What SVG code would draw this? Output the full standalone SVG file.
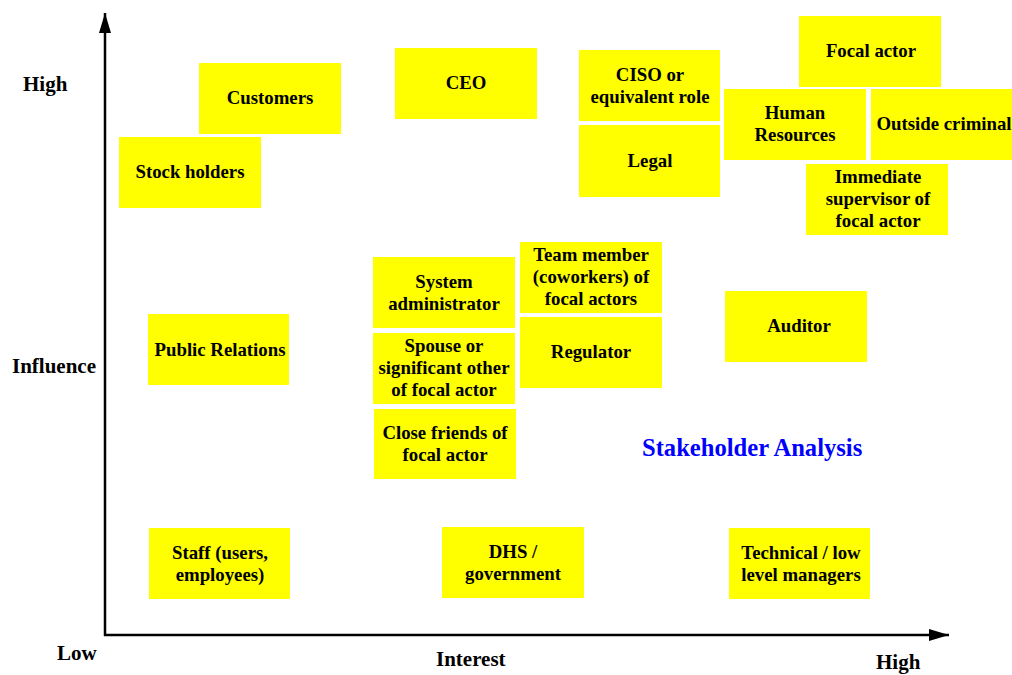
<svg xmlns="http://www.w3.org/2000/svg" width="1012" height="675" viewBox="0 0 1012 675">
  <style>
    .box { fill: #ffff00; }
    .lbl { font-family: "Liberation Serif", "Times New Roman", serif; font-weight: bold; font-size: 18.8px; fill: #000; text-anchor: middle; }
    .axis-lbl { font-family: "Liberation Serif", "Times New Roman", serif; font-weight: bold; font-size: 21px; fill: #000; }
    .title { font-family: "Liberation Serif", "Times New Roman", serif; font-weight: bold; font-size: 24.6px; fill: #0000ff; }
    .axis { stroke: #000; stroke-width: 2.5; fill: none; }
  </style>
  <defs>
    <marker id="arrow" viewBox="0 0 20 12" refX="20" refY="6" markerWidth="20" markerHeight="12" markerUnits="userSpaceOnUse" orient="auto">
      <path d="M0,0 L20,6 L0,12 Z" fill="#000"/>
    </marker>
  </defs>

  <!-- axes -->
  <g id="connectors">
    <line class="axis" x1="105" y1="636" x2="105" y2="13" marker-end="url(#arrow)"/>
    <line class="axis" x1="104" y1="635" x2="949" y2="635" marker-end="url(#arrow)"/>
  </g>

  <!-- axis labels -->
  <g id="axis-labels">
    <text class="axis-lbl" x="23" y="91">High</text>
    <text class="axis-lbl" x="12" y="373">Influence</text>
    <text class="axis-lbl" x="57" y="660">Low</text>
    <text class="axis-lbl" x="436" y="666">Interest</text>
    <text class="axis-lbl" x="876" y="669">High</text>
  </g>

  <text class="title" x="642" y="456">Stakeholder Analysis</text>

  <!-- stakeholders -->
  <g id="customers">
    <rect class="box" x="199" y="63" width="142" height="71"/>
    <text class="lbl" x="270" y="104">Customers</text>
  </g>
  <g id="ceo">
    <rect class="box" x="395" y="48" width="142" height="71"/>
    <text class="lbl" x="466" y="89">CEO</text>
  </g>
  <g id="ciso">
    <rect class="box" x="579" y="50" width="141" height="71"/>
    <text class="lbl" x="650" y="81">CISO or</text>
    <text class="lbl" x="650" y="103">equivalent role</text>
  </g>
  <g id="legal">
    <rect class="box" x="579" y="125" width="141" height="72"/>
    <text class="lbl" x="650" y="167">Legal</text>
  </g>
  <g id="focal-actor">
    <rect class="box" x="799" y="16" width="142" height="71"/>
    <text class="lbl" x="871" y="57">Focal actor</text>
  </g>
  <g id="human-resources">
    <rect class="box" x="724" y="89" width="142" height="71"/>
    <text class="lbl" x="795" y="119">Human</text>
    <text class="lbl" x="795" y="141">Resources</text>
  </g>
  <g id="outside-criminal">
    <rect class="box" x="871" y="89" width="142" height="71"/>
    <text class="lbl" x="944" y="130">Outside criminal</text>
  </g>
  <g id="immediate-supervisor">
    <rect class="box" x="806" y="164" width="142" height="71"/>
    <text class="lbl" x="878" y="183">Immediate</text>
    <text class="lbl" x="878" y="205">supervisor of</text>
    <text class="lbl" x="878" y="227">focal actor</text>
  </g>
  <g id="stock-holders">
    <rect class="box" x="119" y="137" width="142" height="71"/>
    <text class="lbl" x="190" y="178">Stock holders</text>
  </g>
  <g id="system-administrator">
    <rect class="box" x="373" y="257" width="142" height="71"/>
    <text class="lbl" x="444" y="288">System</text>
    <text class="lbl" x="444" y="310">administrator</text>
  </g>
  <g id="team-member">
    <rect class="box" x="520" y="242" width="142" height="71"/>
    <text class="lbl" x="591" y="261">Team member</text>
    <text class="lbl" x="591" y="283">(coworkers) of</text>
    <text class="lbl" x="591" y="305">focal actors</text>
  </g>
  <g id="spouse">
    <rect class="box" x="373" y="333" width="142" height="71"/>
    <text class="lbl" x="444" y="352">Spouse or</text>
    <text class="lbl" x="444" y="374">significant other</text>
    <text class="lbl" x="444" y="396">of focal actor</text>
  </g>
  <g id="regulator">
    <rect class="box" x="520" y="317" width="142" height="71"/>
    <text class="lbl" x="591" y="358">Regulator</text>
  </g>
  <g id="close-friends">
    <rect class="box" x="374" y="409" width="142" height="70"/>
    <text class="lbl" x="445" y="439">Close friends of</text>
    <text class="lbl" x="445" y="461">focal actor</text>
  </g>
  <g id="public-relations">
    <rect class="box" x="148" y="314" width="141" height="71"/>
    <text class="lbl" x="220" y="356">Public Relations</text>
  </g>
  <g id="auditor">
    <rect class="box" x="725" y="291" width="142" height="71"/>
    <text class="lbl" x="799" y="332">Auditor</text>
  </g>
  <g id="staff">
    <rect class="box" x="149" y="528" width="141" height="71"/>
    <text class="lbl" x="220" y="559">Staff (users,</text>
    <text class="lbl" x="220" y="581">employees)</text>
  </g>
  <g id="dhs">
    <rect class="box" x="442" y="527" width="142" height="71"/>
    <text class="lbl" x="513" y="558">DHS /</text>
    <text class="lbl" x="513" y="580">government</text>
  </g>
  <g id="technical-managers">
    <rect class="box" x="729" y="528" width="141" height="71"/>
    <text class="lbl" x="801" y="559">Technical / low</text>
    <text class="lbl" x="801" y="581">level managers</text>
  </g>
</svg>
